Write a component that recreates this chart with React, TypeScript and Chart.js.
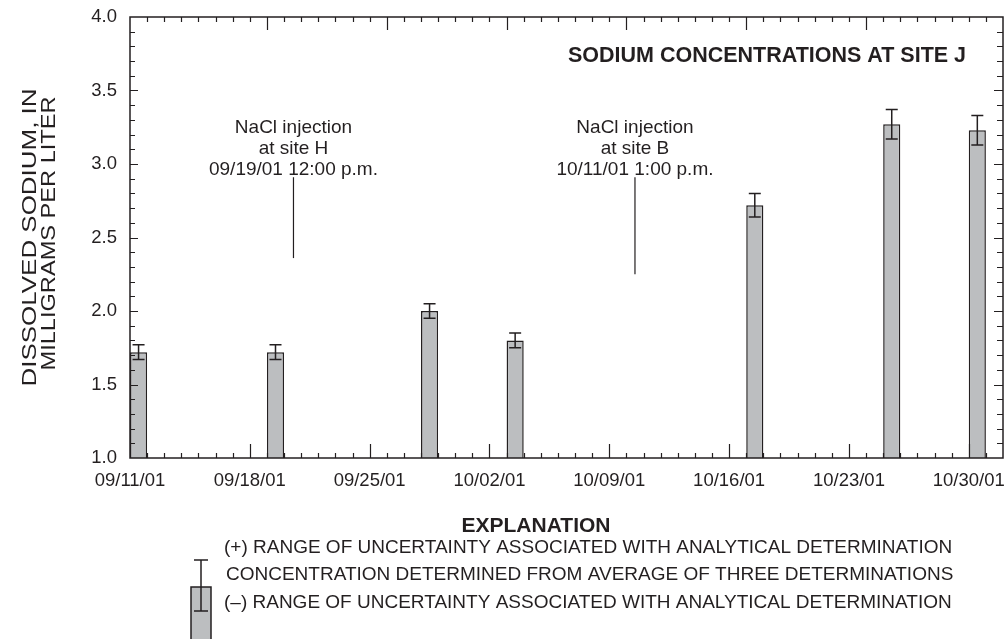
import { useEffect, useRef } from "react";
import { Chart, registerables } from "chart.js";

Chart.register(...registerables);

const FONT = '"Liberation Sans", Arial, Helvetica, sans-serif';
const INK = "#231f20";
const BAR_FILL = "#bcbec0";

// Sampling dates (MM/DD/YY) and laboratory results
const sampleDates = ["09/11/01", "09/19/01", "09/28/01", "10/03/01", "10/17/01", "10/25/01", "10/30/01"];
const sodiumMgL = [1.72, 1.72, 2.0, 1.8, 2.72, 3.27, 3.23];
const uncertaintyMgL = [0.05, 0.05, 0.05, 0.05, 0.08, 0.1, 0.1];

// Axis ranges
const axisStartDate = "09/11/01";
const axisDays = 51;
const xTickStepDays = 7;
const yMin = 1.0;
const yMax = 4.0;
const yStep = 0.5;
const yMinorStep = 0.1;

// Tracer injection notes (leader positions in days after the axis start, values in mg/L)
const injectionText = [
  ["NaCl injection", "at site H", "09/19/01 12:00 p.m."],
  ["NaCl injection", "at site B", "10/11/01 1:00 p.m."],
];
const injectionMarkerDay = [9.55, 29.5];
const injectionMarkerTop = [2.91, 2.91];
const injectionMarkerBottom = [2.36, 2.25];

const chartTitle = "SODIUM CONCENTRATIONS AT SITE J";
const yTitleLines = ["DISSOLVED SODIUM, IN", "MILLIGRAMS PER LITER"];
const explanationTitle = "EXPLANATION";
const explanationLines = [
  "(+) RANGE OF UNCERTAINTY ASSOCIATED WITH ANALYTICAL DETERMINATION",
  "CONCENTRATION DETERMINED FROM AVERAGE OF THREE DETERMINATIONS",
  "(\u2013) RANGE OF UNCERTAINTY ASSOCIATED WITH ANALYTICAL DETERMINATION",
];

const DAY_MS = 86400000;
function toUTC(s: string): number {
  const [m, d, y] = s.split("/").map(Number);
  return Date.UTC(2000 + y, m - 1, d);
}
function dayOffset(s: string): number {
  return (toUTC(s) - toUTC(axisStartDate)) / DAY_MS;
}
function formatDay(v: number): string {
  const dt = new Date(toUTC(axisStartDate) + v * DAY_MS);
  const mm = String(dt.getUTCMonth() + 1).padStart(2, "0");
  const dd = String(dt.getUTCDate()).padStart(2, "0");
  const yy = String(dt.getUTCFullYear() % 100).padStart(2, "0");
  return `${mm}/${dd}/${yy}`;
}

// Bars span the whole sampling day, so they are centred at midday
const barCenters = sampleDates.map((s) => dayOffset(s) + 0.5);

const decorations = {
  id: "decorations",
  afterDatasetsDraw(chart: any) {
    const { ctx, chartArea: a } = chart;
    const x = chart.scales.x;
    const y = chart.scales.y;
    ctx.save();
    ctx.strokeStyle = INK;
    ctx.fillStyle = INK;

    // uncertainty whiskers
    ctx.lineWidth = 1.5;
    ctx.beginPath();
    sodiumMgL.forEach((v, i) => {
      const px = x.getPixelForValue(barCenters[i]);
      const top = y.getPixelForValue(v + uncertaintyMgL[i]);
      const bot = y.getPixelForValue(v - uncertaintyMgL[i]);
      ctx.moveTo(px, top);
      ctx.lineTo(px, bot);
      ctx.moveTo(px - 6, top);
      ctx.lineTo(px + 6, top);
      ctx.moveTo(px - 6, bot);
      ctx.lineTo(px + 6, bot);
    });
    ctx.stroke();

    // plot frame
    ctx.lineWidth = 1.5;
    ctx.strokeRect(a.left, a.top, a.right - a.left, a.bottom - a.top);

    // inward tick marks
    ctx.lineWidth = 1.2;
    ctx.beginPath();
    for (let d = 1; d < axisDays; d++) {
      const px = Math.round(x.getPixelForValue(d)) + 0.5;
      const bottomMajor = d % xTickStepDays === 0;
      const topMajor = d % xTickStepDays === 1 && d > 1 && d < axisDays - 1;
      ctx.moveTo(px, a.bottom);
      ctx.lineTo(px, a.bottom - (bottomMajor ? 14 : 5));
      ctx.moveTo(px, a.top);
      ctx.lineTo(px, a.top + (topMajor ? 13 : 5));
    }
    const nMinor = Math.round((yMax - yMin) / yMinorStep);
    const perMajor = Math.round(yStep / yMinorStep);
    for (let k = 1; k < nMinor; k++) {
      const py = Math.round(y.getPixelForValue(yMin + k * yMinorStep)) + 0.5;
      const major = k % perMajor === 0;
      ctx.moveTo(a.left, py);
      ctx.lineTo(a.left + (major ? 8 : 5), py);
      ctx.moveTo(a.right, py);
      ctx.lineTo(a.right - (major ? 9 : 6), py);
    }
    ctx.stroke();

    // injection notes
    ctx.lineWidth = 1.2;
    ctx.textAlign = "center";
    ctx.textBaseline = "alphabetic";
    ctx.font = `19px ${FONT}`;
    injectionText.forEach((lines, i) => {
      const px = x.getPixelForValue(injectionMarkerDay[i]);
      const top = y.getPixelForValue(injectionMarkerTop[i]);
      const bot = y.getPixelForValue(injectionMarkerBottom[i]);
      ctx.beginPath();
      ctx.moveTo(px, top);
      ctx.lineTo(px, bot);
      ctx.stroke();
      lines.forEach((t, j) => {
        ctx.fillText(t, px, top - 2 - (lines.length - 1 - j) * 21);
      });
    });

    // chart title
    ctx.font = `bold 21.5px ${FONT}`;
    ctx.textBaseline = "middle";
    ctx.fillText(chartTitle, 767, 56);

    ctx.restore();
  },
  afterDraw(chart: any) {
    const { ctx } = chart;
    ctx.save();
    ctx.fillStyle = INK;
    ctx.strokeStyle = INK;

    // y-axis title, two tightly set lines in a wide face
    const titleCentersX = [30, 49];
    const titleCentersY = [237.5, 233.5];
    const titleLengths = [298, 274];
    ctx.font = `20px ${FONT}`;
    ctx.textAlign = "center";
    ctx.textBaseline = "middle";
    yTitleLines.forEach((t, i) => {
      const w = ctx.measureText(t).width;
      ctx.save();
      ctx.translate(titleCentersX[i], titleCentersY[i]);
      ctx.rotate(-Math.PI / 2);
      ctx.scale(titleLengths[i] / w, 1);
      ctx.fillText(t, 0, 0);
      ctx.restore();
    });

    // explanation
    ctx.textBaseline = "middle";
    ctx.textAlign = "center";
    ctx.font = `bold 21px ${FONT}`;
    ctx.fillText(explanationTitle, 536, 526);

    ctx.textAlign = "left";
    ctx.font = `19px ${FONT}`;
    const rowY = [548, 575, 603];
    explanationLines.forEach((t, i) => {
      ctx.fillText(t, i === 1 ? 226 : 224, rowY[i]);
    });

    // explanation symbol
    ctx.fillStyle = BAR_FILL;
    ctx.lineWidth = 1.5;
    ctx.fillRect(191, 587, 20, 60);
    ctx.strokeRect(191, 587, 20, 60);
    ctx.beginPath();
    ctx.moveTo(201, 560);
    ctx.lineTo(201, 611);
    ctx.moveTo(194, 560);
    ctx.lineTo(208, 560);
    ctx.moveTo(194, 611);
    ctx.lineTo(208, 611);
    ctx.stroke();

    ctx.restore();
  },
};

export default function App() {
  const canvasRef = useRef<HTMLCanvasElement | null>(null);

  useEffect(() => {
    if (!canvasRef.current) return;
    const chart = new Chart(canvasRef.current, {
      type: "bar",
      data: {
        datasets: [
          {
            data: barCenters.map((c, i) => ({ x: c, y: sodiumMgL[i] })),
            base: yMin,
            backgroundColor: BAR_FILL,
            borderColor: INK,
            borderWidth: 1.5,
            borderSkipped: "start",
            barPercentage: 0.2,
            categoryPercentage: 1,
          } as any,
        ],
      },
      options: {
        animation: false,
        responsive: false,
        devicePixelRatio: 1,
        layout: { padding: { top: 17, right: 3, bottom: 141, left: 0 } },
        plugins: { legend: { display: false }, tooltip: { enabled: false } },
        scales: {
          x: {
            type: "linear",
            offset: false,
            min: 0,
            max: axisDays,
            grid: { display: false, drawTicks: false },
            border: { display: false },
            ticks: {
              stepSize: xTickStepDays,
              includeBounds: false,
              autoSkip: false,
              maxRotation: 0,
              padding: 12,
              color: INK,
              font: { family: FONT, size: 18.5 },
              callback: (v: any) => formatDay(Number(v)),
            },
            afterFit: (s: any) => {
              s.height = 40;
              s.paddingLeft = 0;
              s.paddingRight = 0;
            },
          },
          y: {
            min: yMin,
            max: yMax,
            grid: { display: false, drawTicks: false },
            border: { display: false },
            ticks: {
              stepSize: yStep,
              padding: 13,
              color: INK,
              font: { family: FONT, size: 18.5 },
              callback: (v: any) => Number(v).toFixed(1),
            },
            afterFit: (s: any) => {
              s.width = 130;
              s.paddingTop = 0;
              s.paddingBottom = 0;
            },
          },
        } as any,
      },
      plugins: [decorations],
    });
    return () => chart.destroy();
  }, []);

  return (
    <div style={{ position: "absolute", left: 0, top: 0, width: 1006, height: 639, background: "#fff" }}>
      <canvas ref={canvasRef} width={1006} height={639} />
    </div>
  );
}
